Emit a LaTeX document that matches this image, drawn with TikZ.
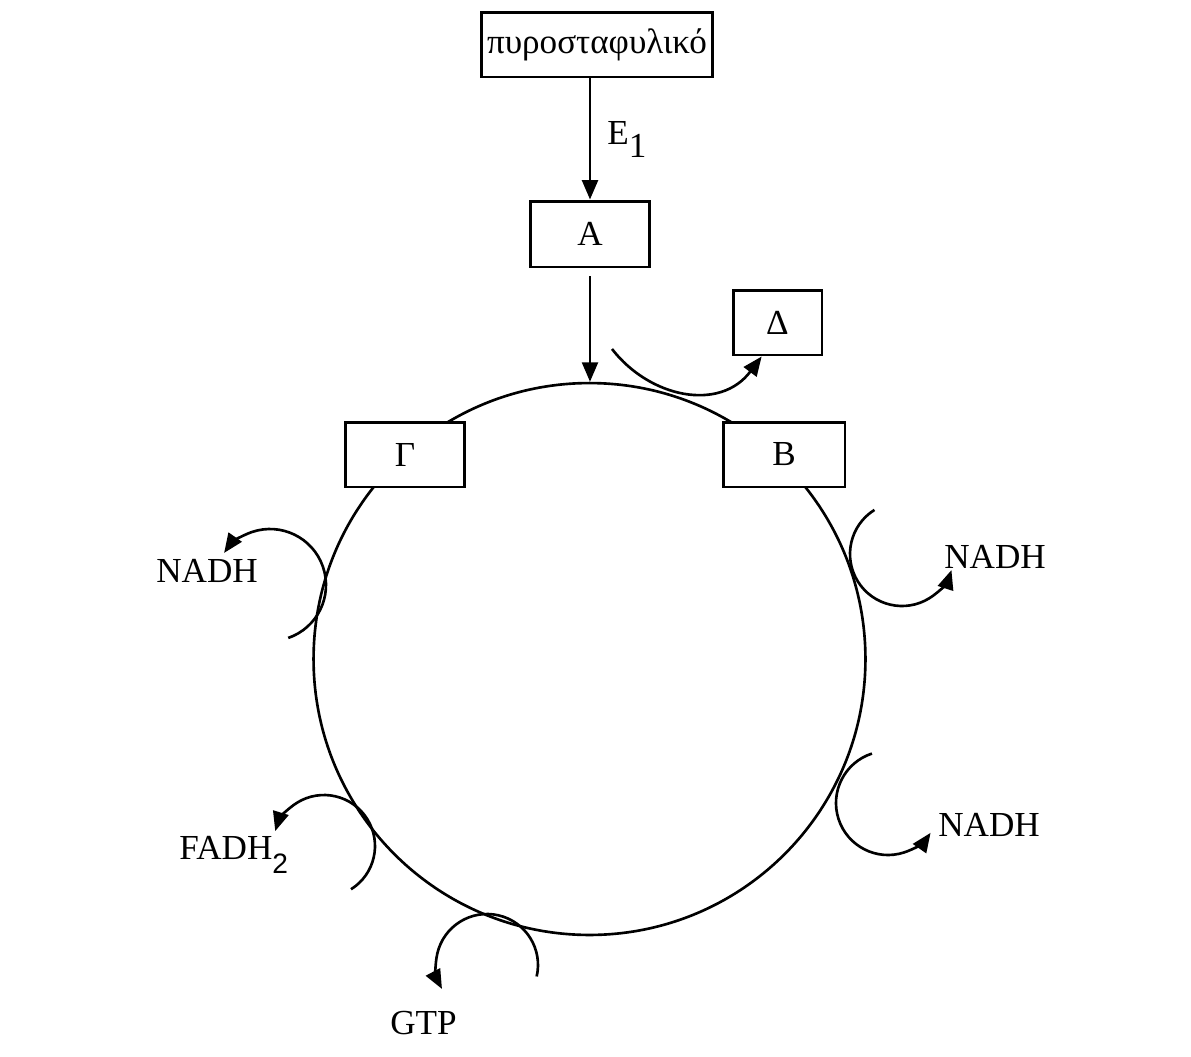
\documentclass[tikz,border=0pt]{standalone}
\usepackage{fontspec}
\setmainfont{Liberation Serif}
\setsansfont{Liberation Sans}
\usepackage{tikz}
\usetikzlibrary{arrows.meta, positioning}

\newcommand{\lowsans}[1]{\raisebox{-8.5pt}{\fontsize{16}{16}\selectfont\sffamily #1}}
\newcommand{\lowserif}[1]{\raisebox{-7.4pt}{#1}}

\begin{document}
\begin{tikzpicture}[
  x=0.02cm, y=-0.02cm,
  font=\fontsize{20}{24}\selectfont,
  stage/.style={draw, fill=white, line width=1.7pt, inner sep=0pt,
                minimum height=1.3cm},
  cycleline/.style={draw, circle, line width=1.5pt, inner sep=0pt,
                    minimum size=11.04cm},
  arrow/.style={-{Triangle[length=11pt, width=9pt]}, line width=1.5pt},
  molecule/.style={inner sep=0pt, anchor=base west},
]
\useasboundingbox (0,0) rectangle (1191,1056);

% the cycle
\node[cycleline] (krebs) at (589.5,659) {};

% boxes
\node[stage, minimum width=4.64cm] (pyro) at (597,44.5) {πυροσταφυλικό};
\node[stage, minimum width=2.38cm, minimum height=1.32cm] (A) at (590,234) {Α};
\node[stage, minimum width=1.78cm] (delta) at (777.5,322.5) {Δ};
\node[stage, minimum width=2.40cm] (gamma) at (405,454.5) {Γ};
\node[stage, minimum width=2.44cm] (B) at (784,454.5) {Β};

\draw[arrow] (pyro.south -| A.north) -- (A.north);
\node[molecule] (enz) at (607,144) {E\lowserif{1}};
\draw[arrow] ([yshift=-0.16cm]A.south) -- (A.south |- krebs.north);

% side products
\coordinate (dstart) at (612,349);
\draw[arrow] (dstart) .. controls (650,398) and (720,412) .. (delta.-115);

\path (270,585) ++(-71:1.12cm) coordinate (nadhLs);
\draw[arrow] (nadhLs) arc[start angle=-71, end angle=145, radius=1.12cm];
\node[molecule] (nadhL) at (156,582) {NADH};

\path (902,554) ++(122:1.04cm) coordinate (nadhTs);
\draw[arrow] (nadhTs) arc[start angle=122, end angle=342, radius=1.04cm];
\node[molecule] (nadhT) at (944,568) {NADH};

\path (888,803) ++(108:1.04cm) coordinate (nadhBs);
\draw[arrow] (nadhBs) arc[start angle=108, end angle=325, radius=1.04cm];
\node[molecule] (nadhB) at (938,836) {NADH};

\path (324,846) ++(-58:1.02cm) coordinate (fadhs);
\draw[arrow] (fadhs) arc[start angle=-58, end angle=163, radius=1.02cm];
\node[molecule] (fadh) at (179,859) {FADH\lowsans{2}};

\path (487,965) ++(-13:1.02cm) coordinate (gtps);
\draw[arrow] (gtps) arc[start angle=-13, end angle=208, radius=1.02cm];
\node[molecule] (gtp) at (390,1034) {GTP};
\end{tikzpicture}
\end{document}
